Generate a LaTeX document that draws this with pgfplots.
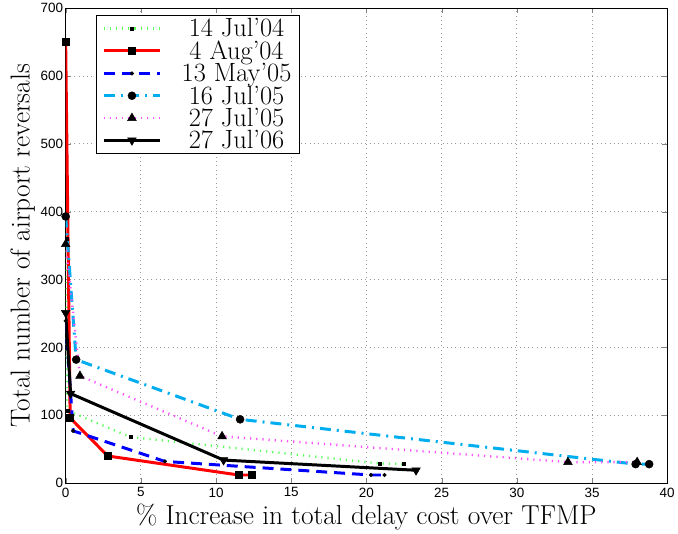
\documentclass[border=0pt]{standalone}
\usepackage{pgfplots}
\pgfplotsset{compat=1.18}
\usepackage{fontspec}
\newfontfamily\ticksf{Liberation Sans}
\definecolor{mgreen}{rgb}{0.35,1,0.35}
\definecolor{mmag}{rgb}{1,0.3,1}
\begin{document}
\begin{tikzpicture}
\begin{axis}[
  scale only axis,
  width=604pt, height=477pt,
  xmin=0, xmax=40, ymin=0, ymax=700,
  xtick={0,5,...,40}, ytick={0,100,...,700},
  xtick pos=both, ytick pos=both,
  tick align=inside,
  major tick length=5pt,
  grid=major,
  major grid style={dash pattern=on 0.8pt off 3.5pt, gray!80, line width=0.8pt},
  axis line style={line width=0.8pt},
  /pgf/number format/assume math mode=true,
  tick label style={font=\ticksf\fontsize{13.5}{15}\selectfont},
  xticklabel style={yshift=-1pt},
  yticklabel style={xshift=1pt},
  label style={font=\fontsize{27.5}{30}\selectfont},
  xlabel={\% Increase in total delay cost over TFMP},
  ylabel={Total number of airport reversals},
  ylabel style={yshift=-1pt},
  xlabel style={yshift=0pt},
  legend style={at={(0.05,0.985)}, anchor=north west, font=\fontsize{26.5}{22}\selectfont,
    draw=black, line width=0.8pt, inner xsep=6pt, inner ysep=3pt, row sep=2.5pt,
    nodes={inner ysep=0pt},
    /tikz/every odd column/.append style={column sep=18pt},
    /tikz/every even column/.append style={column sep=0pt}},
  legend cell align=center,
  legend image code/.code={\draw[mark repeat=2,mark phase=2] plot coordinates {(0cm,0cm) (1cm,0cm) (2cm,0cm)};},
]
\addplot[mgreen, line width=2.4pt, dash pattern=on 1.2pt off 5pt, mark=square*, mark size=1.5pt, mark options={black, solid, line width=0.3pt}]
  coordinates {(0.05,360) (0.1,107) (4.3,68) (20.9,29) (22.5,28)};
\addlegendentry{14 Jul'04}
\addplot[red, line width=3pt, mark=square*, mark size=3.5pt, mark options={black, solid, line width=0.5pt}]
  coordinates {(0,650) (0.3,96) (2.8,40) (11.5,12) (12.4,12)};
\addlegendentry{4 Aug'04}
\addplot[blue, line width=3pt, dash pattern=on 11pt off 7pt, mark=*, mark size=1.8pt, mark options={black, solid, line width=0.5pt}]
  coordinates {(0,239) (0.5,77) (6.6,32) (20.3,12) (21.2,12)};
\addlegendentry{13 May'05}
\addplot[cyan, line width=3pt, dash pattern=on 11pt off 6pt on 2pt off 6pt, mark=*, mark size=4pt, mark options={black, solid, line width=0.5pt}]
  coordinates {(0,393) (0.7,182) (11.6,94) (37.9,28) (38.8,28)};
\addlegendentry{16 Jul'05}
\addplot[mmag, line width=2.4pt, dash pattern=on 1.2pt off 5pt, mark=triangle*, mark size=5pt, mark options={black, solid, line width=0.5pt}]
  coordinates {(0,352) (0.95,158) (10.4,69) (33.4,31) (38.0,31)};
\addlegendentry{27 Jul'05}
\addplot[black, line width=3pt, mark=triangle*, mark size=5pt, mark options={black, solid, rotate=180, line width=0.5pt}]
  coordinates {(0,251) (0.33,132) (10.5,34) (23.3,19)};
\addlegendentry{27 Jul'06}
\end{axis}
\path ([xshift=-7pt]current bounding box.west) -- (current bounding box.center);
\end{tikzpicture}
\end{document}
